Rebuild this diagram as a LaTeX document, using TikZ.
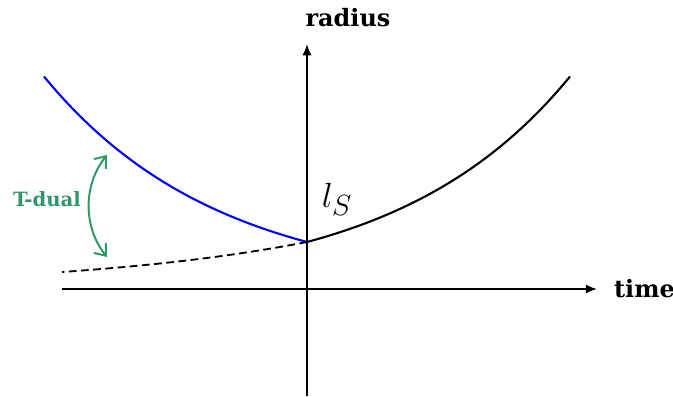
\documentclass[tikz,border=0pt]{standalone}
\usepackage{amsmath,amssymb}
\usepackage{xcolor}
\usepackage{fontspec}
\newfontfamily\labelfont{DejaVu Serif}
\usetikzlibrary{arrows, arrows.meta, positioning, calc}
\definecolor{dualgreen}{RGB}{48,152,104}
\tikzstyle{axis} = [line width=1.2pt,-{Latex[length=8pt,width=6.5pt]}]
\tikzstyle{branch} = [line width=1.5pt]
\tikzstyle{dualbranch} = [line width=1.3pt, dash pattern=on 5.5pt off 3.2pt]
\tikzstyle{dualarrow} = [line width=1.4pt, draw=dualgreen, {Straight Barb[length=7pt,width=11pt]}-{Straight Barb[length=7pt,width=11pt]}]
\tikzstyle{axislabel} = [font=\labelfont\bfseries\fontsize{17}{20}\selectfont]

\begin{document}
\begin{tikzpicture}[x=0.025cm, y=-0.025cm]
  \useasboundingbox (0,0) rectangle (673,396);

  % Axes
  \coordinate (origin) at (307,289);
  \coordinate (tstart) at (62,289);
  \coordinate (tend) at (597,289);
  \coordinate (rstart) at (307,396);
  \coordinate (rend) at (307,44);
  \draw[axis] (tstart) -- (tend);
  \draw[axis] (rstart) -- (rend);
  \node (time) [axislabel, anchor=west, inner sep=0pt] at ([xshift=12]tend) {time};
  \node (radius) [axislabel] at (348,18) {radius};

  % Branches
  \draw[branch, blue] plot[domain=0:263, samples=80] ({307-\x},{289-47*exp(0.00573*\x)});
  \draw[branch] plot[domain=0:263, samples=80] ({307+\x},{289-47*exp(0.00573*\x)});
  \draw[dualbranch] plot[domain=0:245, samples=60] ({307-\x},{289-47*exp(-0.00415*\x)});

  % String length
  \node (ls) at (337,199) {\fontsize{32}{36}\selectfont$l_S$};

  % T-duality
  \coordinate (dualtop) at (107,155);
  \coordinate (dualbot) at (107,257);
  \draw[dualarrow] (dualtop) .. controls (83,185) and (83,227) .. (dualbot);
  \node (tdual) [text=dualgreen, font=\labelfont\bfseries\fontsize{14}{17}\selectfont] at (47,199) {T-dual};
\end{tikzpicture}
\end{document}
